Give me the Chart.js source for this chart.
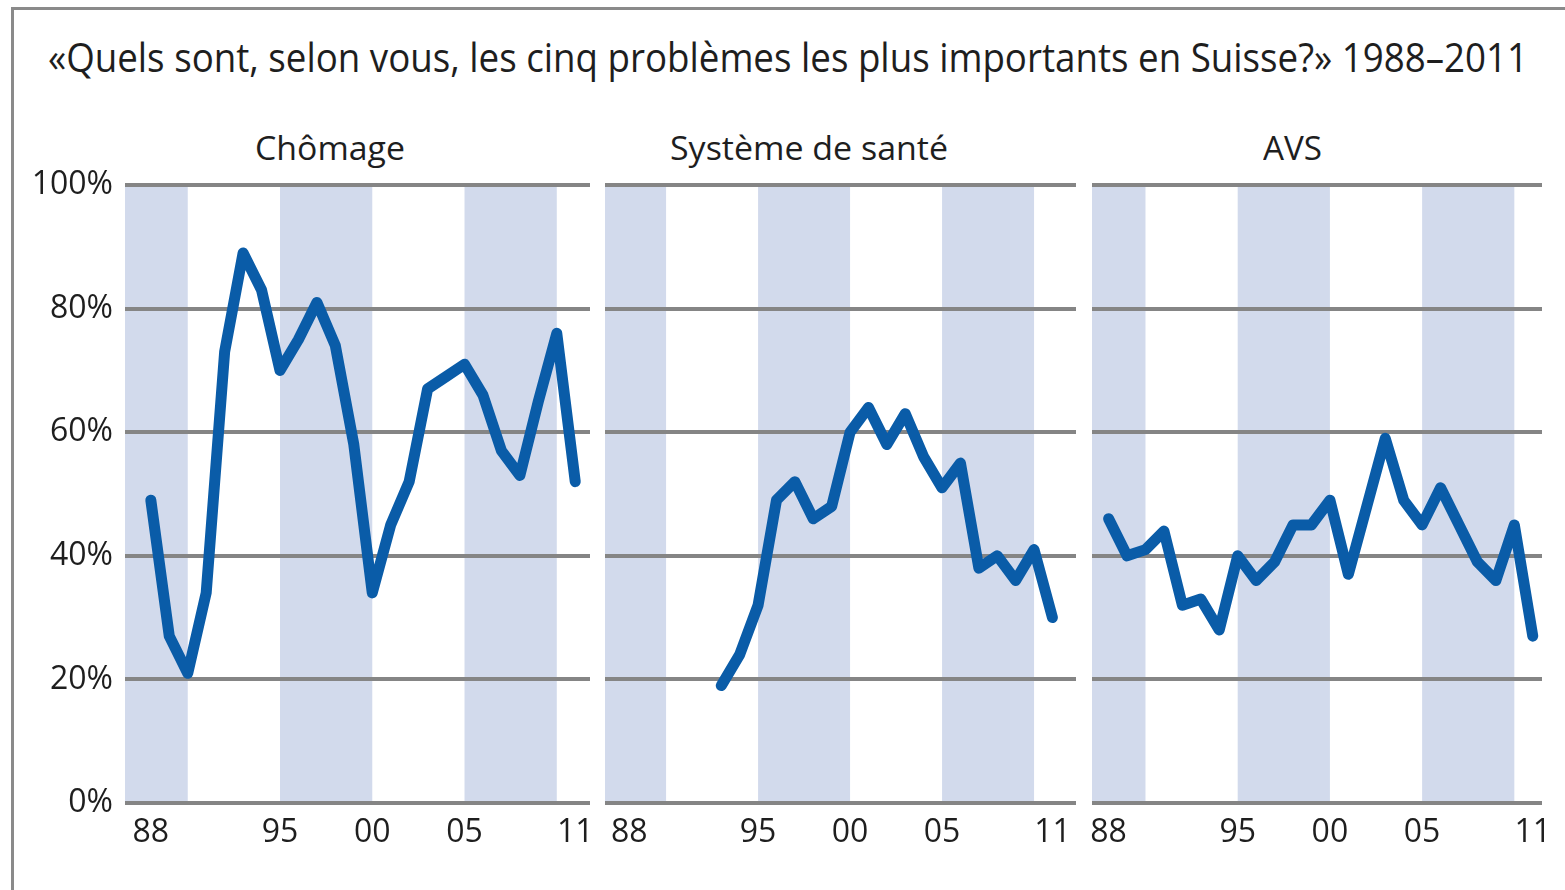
<!DOCTYPE html>
<html>
<head>
<meta charset="utf-8">
<script src="https://cdn.jsdelivr.net/npm/chart.js@4.4.1/dist/chart.umd.min.js"></script>
<style>
  html, body { margin: 0; padding: 0; background: #ffffff; }
  body { width: 1565px; height: 890px; position: relative; overflow: hidden; font-family: "Open Sans", sans-serif; }
  #frame { position: absolute; left: 11px; top: 7px; width: 1570px; height: 900px;
           border-left: 3px solid #8a8a8a; border-top: 3px solid #8a8a8a; box-sizing: border-box; }
  .txt { position: absolute; white-space: nowrap; color: #1e1e1e; line-height: 1; transform-origin: 0 0; }
  canvas { position: absolute; }
</style>
</head>
<body>
<div id="frame"></div>
<div id="title" class="txt" style="font-size:40px;">«Quels sont, selon vous, les cinq problèmes les plus importants en Suisse?» 1988–2011</div>
<div id="t1" class="txt" style="font-size:32px;">Chômage</div>
<div id="t2" class="txt" style="font-size:32px;">Système de santé</div>
<div id="t3" class="txt" style="font-size:32px;">AVS</div>
<canvas id="c1" width="600" height="700" style="left:0px; top:170px;"></canvas>
<canvas id="c2" width="486" height="700" style="left:600px; top:170px;"></canvas>
<canvas id="c3" width="470" height="700" style="left:1086px; top:170px;"></canvas>
<script>
// ---------- data ----------
const years = [1988, 1989, 1990, 1991, 1992, 1993, 1994, 1995, 1996, 1997, 1998, 1999,
               2000, 2001, 2002, 2003, 2004, 2005, 2006, 2007, 2008, 2009, 2010, 2011];
const chomage = [49, 27, 21, 34, 73, 89, 83, 70, 75, 81, 74, 58,
                 34, 45, 52, 67, 69, 71, 66, 57, 53, 65, 76, 52];
const sante = [null, null, null, null, null, 19, 24, 32, 49, 52, 46, 48,
               60, 64, 58, 63, 56, 51, 55, 38, 40, 36, 41, 30];
const avs = [46, 40, 41, 44, 32, 33, 28, 40, 36, 39, 45, 45,
             49, 37, 48, 59, 49, 45, 51, 45, 39, 36, 45, 27];
const panelTitles = ["Chômage", "Système de santé", "AVS"];
const mainTitle = "«Quels sont, selon vous, les cinq problèmes les plus importants en Suisse?» 1988–2011";
const xTickYears = [1988, 1995, 2000, 2005, 2011];
const xTickLabels = ["88", "95", "00", "05", "11"];
const yTickValues = [0, 20, 40, 60, 80, 100];
const shadedPeriods = [[1985, 1990], [1995, 2000], [2005, 2010]];

// ---------- text placement ----------
function placeText(id, text, leftOrCenter, baselineY, targetWidth, centered) {
  const el = document.getElementById(id);
  el.textContent = text;
  const marker = document.createElement('span');
  marker.style.display = 'inline-block';
  marker.style.width = '0px';
  marker.style.height = '0px';
  el.appendChild(marker);
  const w = el.getBoundingClientRect().width;
  const base = marker.offsetTop;
  const s = targetWidth / w;
  el.style.transform = 'scaleX(' + s + ')';
  el.style.left = (centered ? leftOrCenter - targetWidth / 2 : leftOrCenter) + 'px';
  el.style.top = (baselineY - base) + 'px';
}
placeText('title', mainTitle, 48, 72, 1480, false);
placeText('t1', panelTitles[0], 330, 160, 150, true);
placeText('t2', panelTitles[1], 809, 160, 278, true);
placeText('t3', panelTitles[2], 1292, 160, 59, true);

// ---------- charts ----------
const bandPlugin = {
  id: 'bands',
  beforeDraw(chart) {
    const { ctx, chartArea: a, scales: { x } } = chart;
    ctx.save();
    ctx.beginPath();
    ctx.rect(a.left, a.top, a.right - a.left, a.bottom - a.top);
    ctx.clip();
    ctx.fillStyle = '#d2daec';
    shadedPeriods.forEach(([s, e]) => {
      const x0 = x.getPixelForValue(s), x1 = x.getPixelForValue(e);
      ctx.fillRect(x0, a.top, x1 - x0, a.bottom - a.top);
    });
    ctx.restore();
  }
};

const tickFont = { family: "'Open Sans', sans-serif", size: 32 };

function noPad(sc) {
  sc.paddingTop = 0; sc.paddingBottom = 0; sc.paddingLeft = 0; sc.paddingRight = 0;
}

function makeChart(id, values, xmin, xmax, showY, pad) {
  const data = years.map((y, i) => ({ x: y, y: values[i] }));
  return new Chart(document.getElementById(id), {
    type: 'line',
    data: { datasets: [{
      data: data,
      borderColor: '#0a5ca8',
      borderWidth: 11,
      pointRadius: 0,
      pointHoverRadius: 0,
      borderJoinStyle: 'round',
      borderCapStyle: 'round',
      tension: 0,
      spanGaps: false,
      fill: false
    }] },
    options: {
      responsive: false,
      animation: false,
      events: [],
      layout: { padding: pad },
      plugins: { legend: { display: false }, tooltip: { enabled: false }, title: { display: false } },
      scales: {
        x: {
          type: 'linear',
          min: xmin, max: xmax,
          grid: { display: false, drawTicks: false },
          border: { display: false },
          afterBuildTicks: (sc) => { sc.ticks = xTickYears.map(v => ({ value: v })); },
          afterFit: (sc) => { sc.height = 67; noPad(sc); },
          ticks: {
            autoSkip: false, maxRotation: 0, padding: 11,
            color: '#1e1e1e', font: tickFont,
            callback: (v) => { const k = xTickYears.indexOf(v); return k >= 0 ? xTickLabels[k] : ''; }
          }
        },
        y: {
          min: 0, max: 100,
          grid: { color: '#858585', lineWidth: 4, drawTicks: false },
          border: { display: false },
          afterBuildTicks: (sc) => { sc.ticks = yTickValues.map(v => ({ value: v })); },
          afterFit: (sc) => { sc.width = showY ? 125 : 0; noPad(sc); },
          ticks: {
            display: showY, padding: 12,
            color: '#1e1e1e', font: tickFont,
            callback: (v) => v + '%'
          }
        }
      }
    },
    plugins: [bandPlugin]
  });
}

makeChart('c1', chomage, 1986.6, 2011.8, true, { top: 15, right: 10, left: 0, bottom: 0 });
makeChart('c2', sante, 1986.68, 2012.28, false, { top: 15, right: 10, left: 5, bottom: 0 });
makeChart('c3', avs, 1987.1, 2011.5, false, { top: 15, right: 14, left: 6, bottom: 0 });
</script>
</body>
</html>
